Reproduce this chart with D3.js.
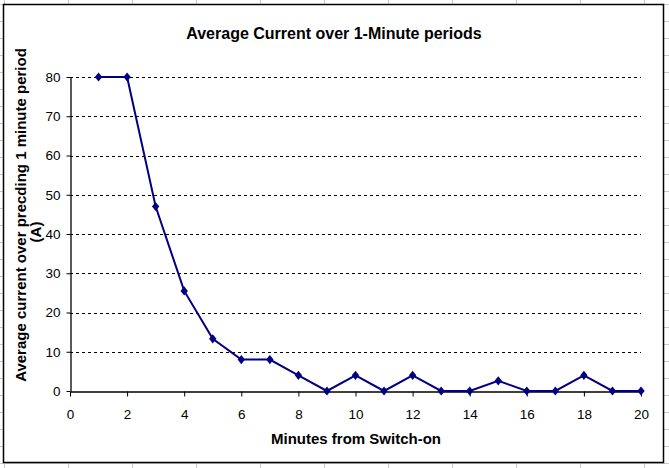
<!DOCTYPE html>
<html>
<head>
<meta charset="utf-8">
<script src="https://cdn.jsdelivr.net/npm/d3@7"></script>
<style>
  body { margin: 0; background: #fff; }
  svg { display: block; font-family: "Liberation Sans", Arial, sans-serif; }
</style>
</head>
<body>
<svg id="chart"></svg>
<script>
// minutes from switch-on and average current (A)
const minutes = [1, 2, 3, 4, 5, 6, 7, 8, 9, 10, 11, 12, 13, 14, 15, 16, 17, 18, 19, 20];
const current = [80, 80, 47, 25.5, 13.3, 8, 8, 4, 0, 4, 0, 4, 0, 0, 2.6, 0, 0, 4, 0, 0];
const xTicks = [0, 2, 4, 6, 8, 10, 12, 14, 16, 18, 20];
const yTicks = [0, 10, 20, 30, 40, 50, 60, 70, 80];

const svgWidth = 669;
const svgHeight = 468;
const margin = { top: 77, right: 28, bottom: 77, left: 70 };

const svg = d3.select("#chart")
  .attr("width", svgWidth)
  .attr("height", svgHeight);

// spreadsheet cells behind the chart
const sheet = svg.append("g").attr("stroke", "#c8c8c8").attr("stroke-width", 1);
d3.range(4.5, svgWidth, 64).forEach((gx) => {
  sheet.append("line").attr("x1", gx).attr("x2", gx).attr("y1", 0).attr("y2", svgHeight);
});
d3.range(4.5, svgHeight, 17).forEach((gy) => {
  sheet.append("line").attr("x1", 0).attr("x2", svgWidth).attr("y1", gy).attr("y2", gy);
});

// chart area
svg.append("rect")
  .attr("x", 3.5)
  .attr("y", 4.5)
  .attr("width", 660)
  .attr("height", 458)
  .attr("fill", "#fff")
  .attr("stroke", "#000")
  .attr("stroke-width", 1.5);

const x = d3.scaleLinear()
  .domain([0, 20])
  .range([margin.left, svgWidth - margin.right]);

const y = d3.scaleLinear()
  .domain([0, 80])
  .range([svgHeight - margin.bottom, margin.top]);

// dashed gridlines
svg.append("g")
  .selectAll("line")
  .data(yTicks.filter((d) => d > 0))
  .enter()
  .append("line")
  .attr("x1", x(0))
  .attr("x2", x(20))
  .attr("y1", (d) => Math.round(y(d)) + 0.5)
  .attr("y2", (d) => Math.round(y(d)) + 0.5)
  .attr("stroke", "#000")
  .attr("stroke-dasharray", "3,3");

// axes
const xAxis = svg.append("g")
  .attr("transform", `translate(0, ${Math.round(y(0)) + 0.5})`)
  .call(d3.axisBottom(x).tickValues(xTicks).tickSize(5).tickPadding(13).tickSizeOuter(0));

const yAxis = svg.append("g")
  .attr("transform", `translate(${x(0) + 0.5}, 0)`)
  .call(d3.axisLeft(y).tickValues(yTicks).tickSize(4).tickPadding(6).tickSizeOuter(0));

[xAxis, yAxis].forEach((g) => {
  g.select(".domain").attr("stroke", "#000").attr("stroke-width", 1.3);
  g.selectAll(".tick line").attr("stroke", "#000");
  g.selectAll("text")
    .attr("fill", "#000")
    .style("font-size", "13.5px")
    .style("font-family", '"Liberation Sans", Arial, sans-serif');
});

// series
const line = d3.line()
  .x((d, i) => x(minutes[i]))
  .y((d) => y(d));

svg.append("path")
  .datum(current)
  .attr("d", line)
  .attr("fill", "none")
  .attr("stroke", "#000080")
  .attr("stroke-width", 2);

svg.append("g")
  .selectAll("path")
  .data(current)
  .enter()
  .append("path")
  .attr("d", d3.symbol(d3.symbolDiamond, 30))
  .attr("transform", (d, i) => `translate(${x(minutes[i])}, ${y(d)}) scale(1.25, 0.9)`)
  .attr("fill", "#000080");

// titles
svg.append("text")
  .attr("x", 334)
  .attr("y", 38.5)
  .attr("text-anchor", "middle")
  .style("font-size", "16px")
  .style("font-weight", "bold")
  .text("Average Current over 1-Minute periods");

svg.append("text")
  .attr("x", 356)
  .attr("y", 444)
  .attr("text-anchor", "middle")
  .style("font-size", "15px")
  .style("font-weight", "bold")
  .text("Minutes from Switch-on");

const yTitle = svg.append("text")
  .attr("transform", "translate(25.5, 215) rotate(-90)")
  .attr("text-anchor", "middle")
  .style("font-size", "15px")
  .style("font-weight", "bold");
yTitle.append("tspan").attr("x", 0).attr("y", 0).text("Average current over precding 1 minute period");
yTitle.append("tspan").attr("x", -17).attr("y", 15).text("(A)");
</script>
</body>
</html>
